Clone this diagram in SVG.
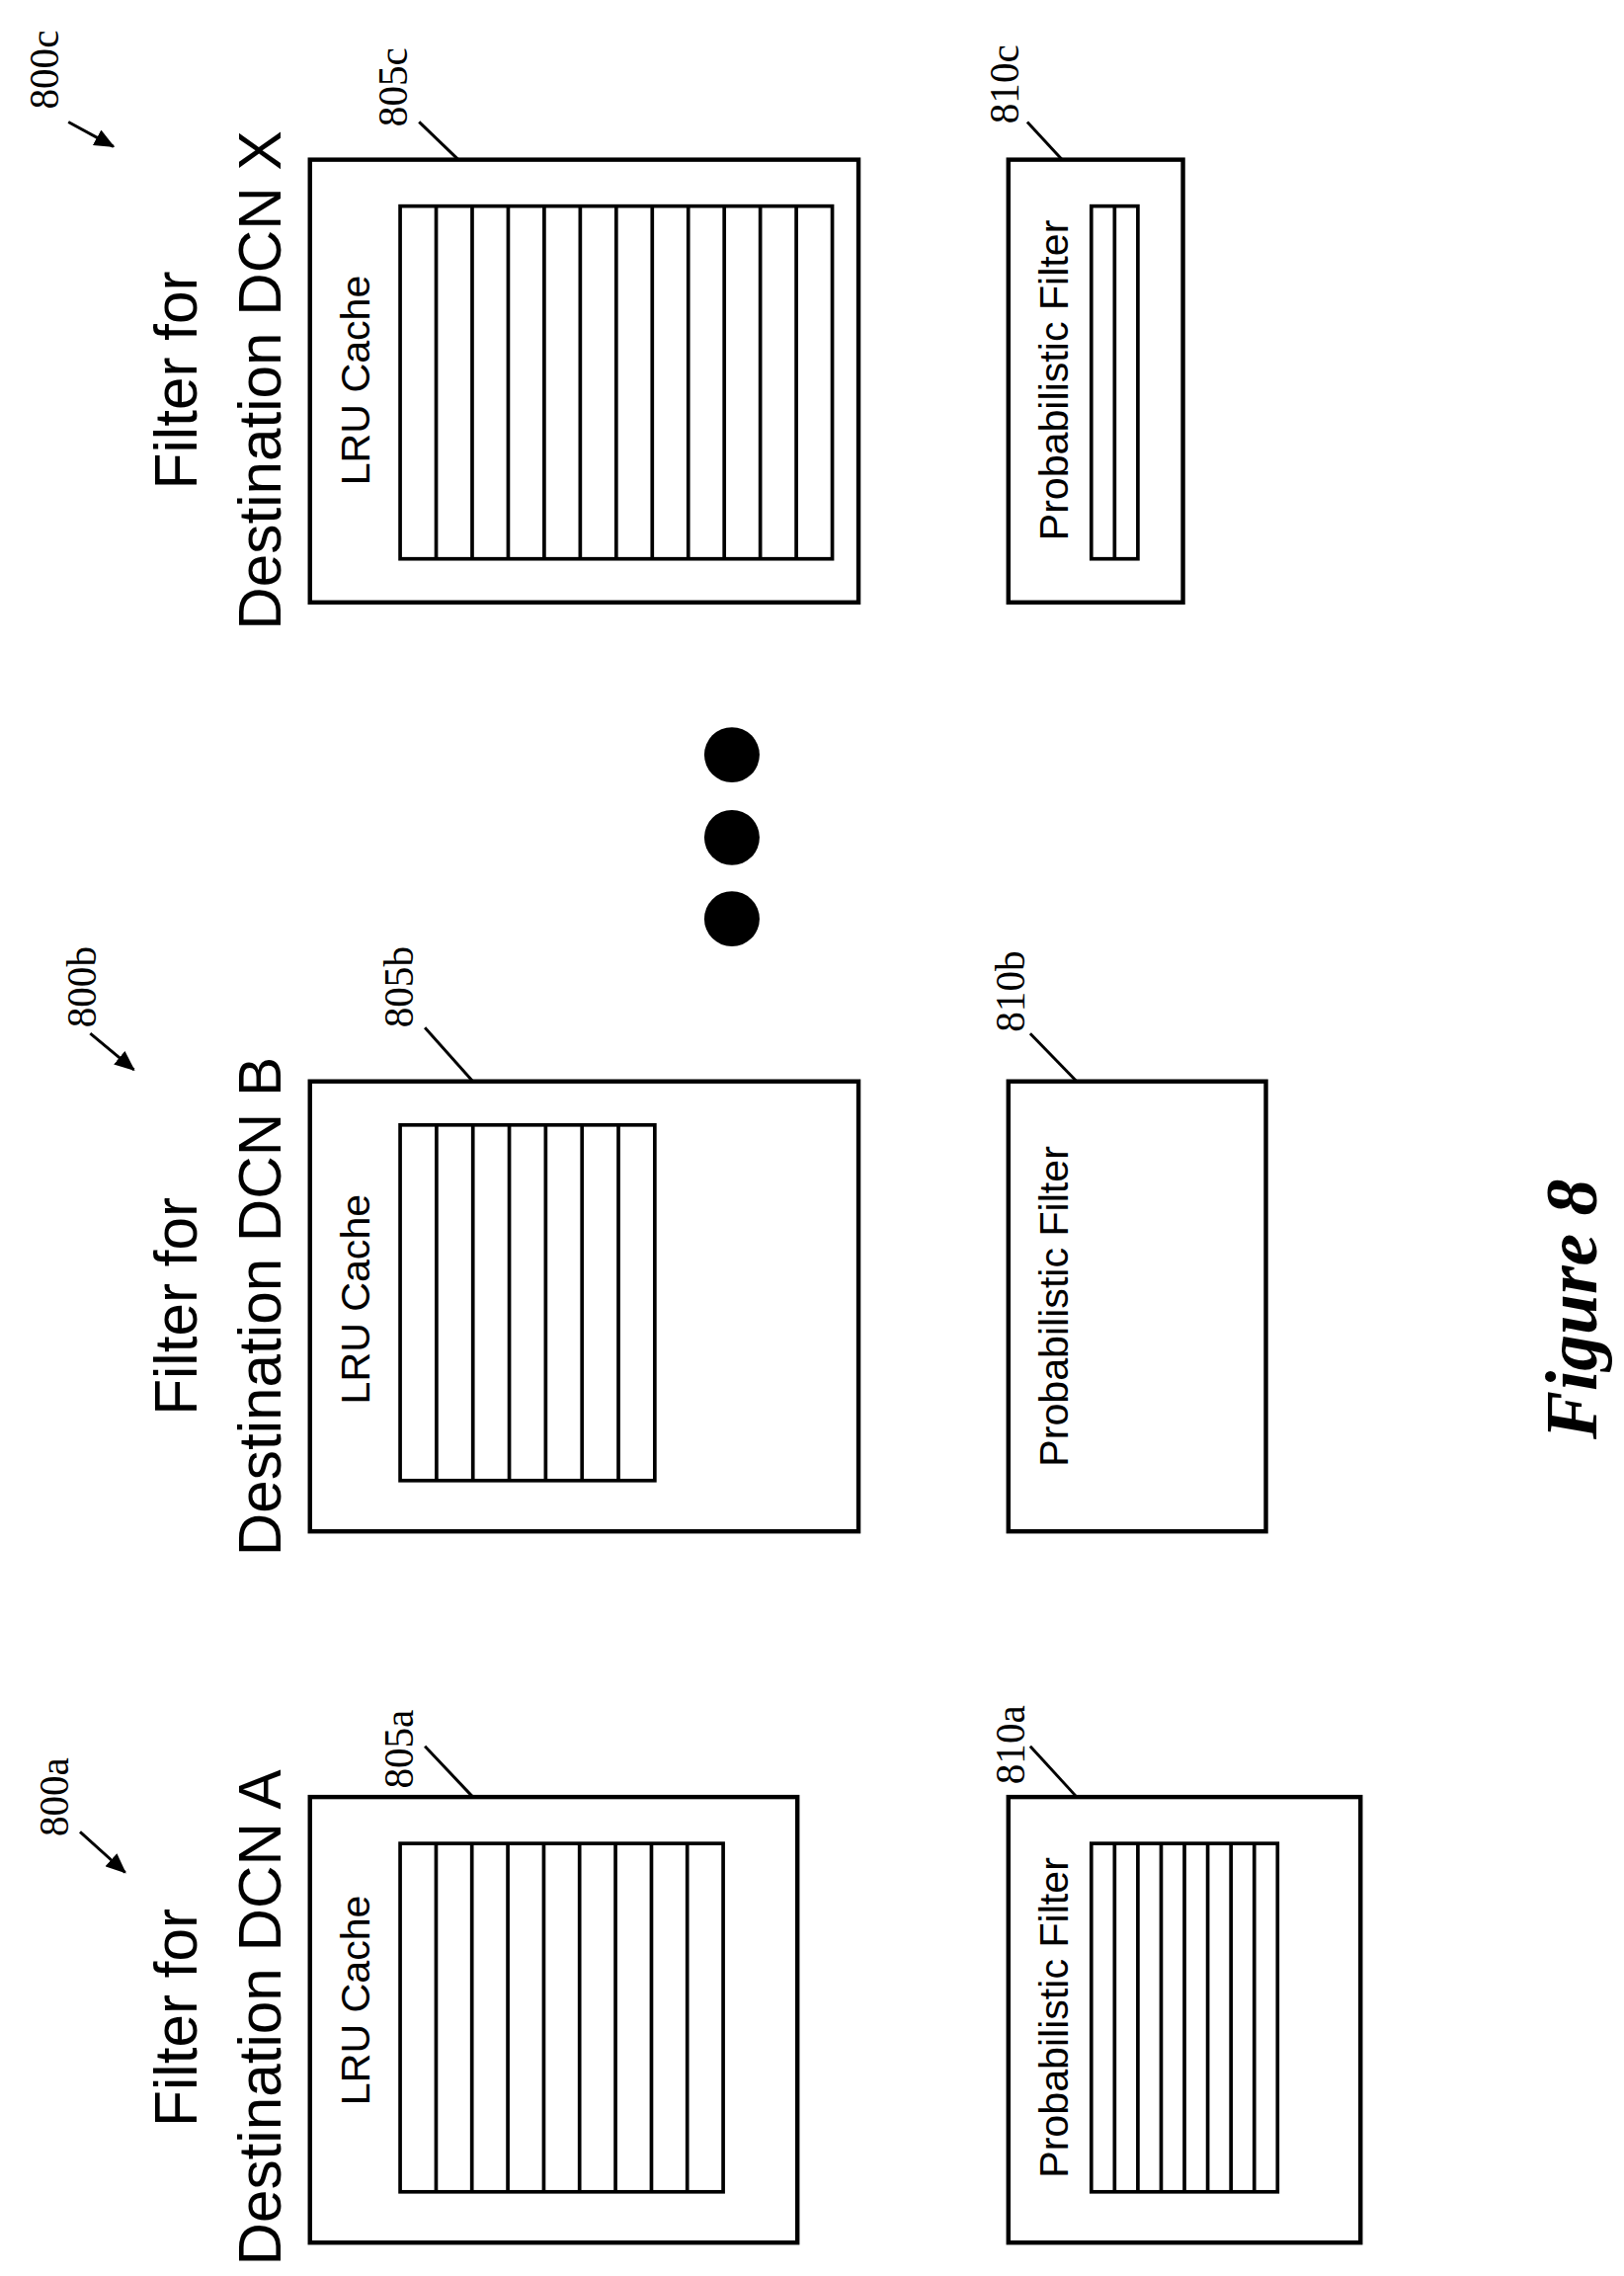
<svg xmlns="http://www.w3.org/2000/svg" width="1644" height="2304" viewBox="0 0 1644 2304">
<style>
.box{fill:none;stroke:#000;stroke-width:3}
.in{fill:none;stroke:#000;stroke-width:2.5}
.t{font-family:"Liberation Sans",Arial,sans-serif;fill:#000;text-anchor:middle}
.ti{font-size:41px}
.sm{font-size:28px}
.lb{font-family:"Liberation Serif","Times New Roman",serif;font-size:28px;text-anchor:middle}
.ld{stroke:#000;stroke-width:2;fill:none}
</style>
<defs><marker id="ah" markerWidth="14" markerHeight="12" refX="13" refY="6" orient="auto" markerUnits="userSpaceOnUse"><path d="M0,0 L14,6 L0,12 z"/></marker></defs>
<rect width="1644" height="2304" fill="#fff"/>
<g transform="scale(1.473,1.4694)">
<g id="filterA">
<text class="t ti" transform="translate(135,1390) rotate(-90)">Filter for</text>
<text class="t ti" transform="translate(193,1390) rotate(-90)">Destination DCN A</text>
<g id="n805a"><rect class="box" x="213" y="1238" width="335" height="307"/>
<text class="t sm" transform="translate(254,1378) rotate(-90)">LRU Cache</text>
<rect class="in" x="275" y="1270" width="222" height="240"/>
<path class="in" d="M299.7,1270V1510M324.3,1270V1510M349,1270V1510M373.7,1270V1510M398.3,1270V1510M423,1270V1510M447.7,1270V1510M472.3,1270V1510"/></g>
<g id="n810a"><rect class="box" x="693" y="1238" width="242" height="307"/>
<text class="t sm" transform="translate(734,1390) rotate(-90)">Probabilistic Filter</text>
<rect class="in" x="750" y="1270" width="128" height="240"/>
<path class="in" d="M766,1270V1510M782,1270V1510M798,1270V1510M814,1270V1510M830,1270V1510M846,1270V1510M862,1270V1510"/></g>
</g>
<g id="filterB">
<text class="t ti" transform="translate(135,900) rotate(-90)">Filter for</text>
<text class="t ti" transform="translate(193,900) rotate(-90)">Destination DCN B</text>
<g id="n805b"><rect class="box" x="213" y="745" width="377" height="310"/>
<text class="t sm" transform="translate(254,895) rotate(-90)">LRU Cache</text>
<rect class="in" x="275" y="775" width="175" height="245"/>
<path class="in" d="M300,775V1020M325,775V1020M350,775V1020M375,775V1020M400,775V1020M425,775V1020"/></g>
<g id="n810b"><rect class="box" x="693" y="745" width="177" height="310"/>
<text class="t sm" transform="translate(734,900) rotate(-90)">Probabilistic Filter</text></g>
</g>
<g id="filterX">
<text class="t ti" transform="translate(135,262) rotate(-90)">Filter for</text>
<text class="t ti" transform="translate(193,262) rotate(-90)">Destination DCN X</text>
<g id="n805c"><rect class="box" x="213" y="110" width="377" height="305"/>
<text class="t sm" transform="translate(254,262) rotate(-90)">LRU Cache</text>
<rect class="in" x="275" y="142" width="297" height="243"/>
<path class="in" d="M299.75,142V385M324.5,142V385M349.25,142V385M374,142V385M398.75,142V385M423.5,142V385M448.25,142V385M473,142V385M497.75,142V385M522.5,142V385M547.25,142V385"/></g>
<g id="n810c"><rect class="box" x="693" y="110" width="120" height="305"/>
<text class="t sm" transform="translate(734,262) rotate(-90)">Probabilistic Filter</text>
<rect class="in" x="750" y="142" width="32" height="243"/>
<path class="in" d="M766,142V385"/></g>
</g>
<g id="ellipsis"><circle cx="503" cy="520" r="19"/><circle cx="503" cy="577" r="19"/><circle cx="503" cy="633" r="19"/></g>
<g id="labels">
<text class="lb" transform="translate(47,1238) rotate(-90)">800a</text>
<text class="lb" transform="translate(284,1205) rotate(-90)">805a</text>
<text class="lb" transform="translate(704,1202) rotate(-90)">810a</text>
<text class="lb" transform="translate(66,680) rotate(-90)">800b</text>
<text class="lb" transform="translate(284,680) rotate(-90)">805b</text>
<text class="lb" transform="translate(704,683) rotate(-90)">810b</text>
<text class="lb" transform="translate(40,48) rotate(-90)">800c</text>
<text class="lb" transform="translate(280,60) rotate(-90)">805c</text>
<text class="lb" transform="translate(700,58) rotate(-90)">810c</text>
<text transform="translate(1097,902) rotate(-90)" style="font-family:'Liberation Serif','Times New Roman',serif;font-size:50px;font-weight:bold;font-style:italic;text-anchor:middle">Figure 8</text>
</g>
</g>
<g id="connectors" transform="scale(1.473,1.4694)">
<path class="ld" d="M55,1262L86,1290" marker-end="url(#ah)"/>
<path class="ld" d="M292,1203L325,1238"/>
<path class="ld" d="M708,1203L740,1238"/>
<path class="ld" d="M62,712L92,737" marker-end="url(#ah)"/>
<path class="ld" d="M292,708L325,745"/>
<path class="ld" d="M708,712L740,745"/>
<path class="ld" d="M47,84L78,101" marker-end="url(#ah)"/>
<path class="ld" d="M288,84L315,110"/>
<path class="ld" d="M706,84L730,110"/>
</g>
</svg>
